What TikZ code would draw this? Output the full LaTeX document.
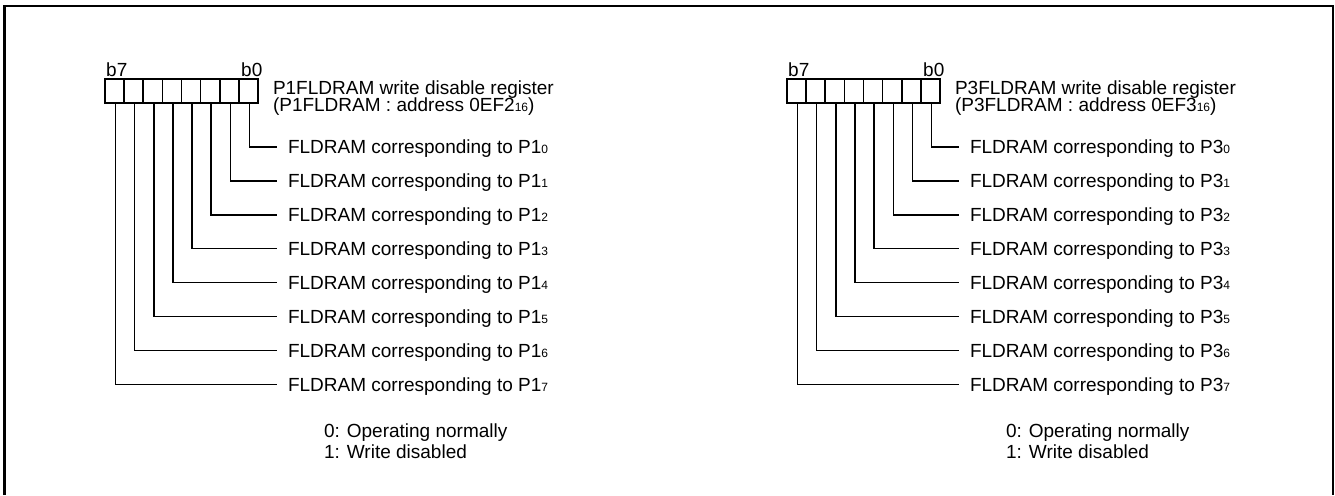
\documentclass[tikz,border=0pt]{standalone}
\usepackage{fontspec}
\setmainfont{Liberation Sans}
\newcommand{\sbd}[1]{{\fontsize{12}{12}\selectfont #1}}
\tikzset{
  cellbox/.style={draw, line width=1.7pt, minimum width=19.125pt, minimum height=24pt, inner sep=0pt, outer sep=0pt},
  txt/.style={anchor=west, inner sep=0pt, outer sep=0pt, text height=13.6pt, text depth=0pt, font=\fontsize{19}{22}\selectfont},
  bitlbl/.style={anchor=base west, inner sep=0pt, font=\fontsize{19}{22}\selectfont},
  wire/.style={line width=1.4pt},
  frame/.style={line width=2.5pt}
}
\begin{document}
\begin{tikzpicture}[x=1pt,y=-1pt]
\useasboundingbox (0,0) rectangle (1335,495);
\draw[frame] (4.5,495) -- (4.5,6) -- (1333,6) -- (1333,495);
\foreach \R/\dx/\addr in {1/0/2, 3/682/3}{
  \node[bitlbl] (b7\R) at (106+\dx,77) {b7};
  \node[bitlbl] (b0\R) at (241+\dx,77) {b0};
  \node[txt] (t1\R) at (273+\dx,88) {P\R FLDRAM write disable register};
  \node[txt] (t2\R) at (273+\dx,105) {(P\R FLDRAM : address 0EF\addr\sbd{16})};
  \foreach \k in {0,...,7}{
    \node[cellbox] (c\R\k) at ({105+\dx+19.125*(7-\k+0.5)},91) {};
    \node[txt] (l\R\k) at (288+\dx,{147+33.9*\k}) {FLDRAM corresponding to P\R\sbd{\k}};
    \draw[wire] ([xshift=1pt]c\R\k.south) |- ([xshift=-11pt]l\R\k.west);
  }
  \node[txt] (n0\R) at (324+\dx,431) {0: Operating normally};
  \node[txt] (n1\R) at (324+\dx,452) {1: Write disabled};
}
\end{tikzpicture}
\end{document}
